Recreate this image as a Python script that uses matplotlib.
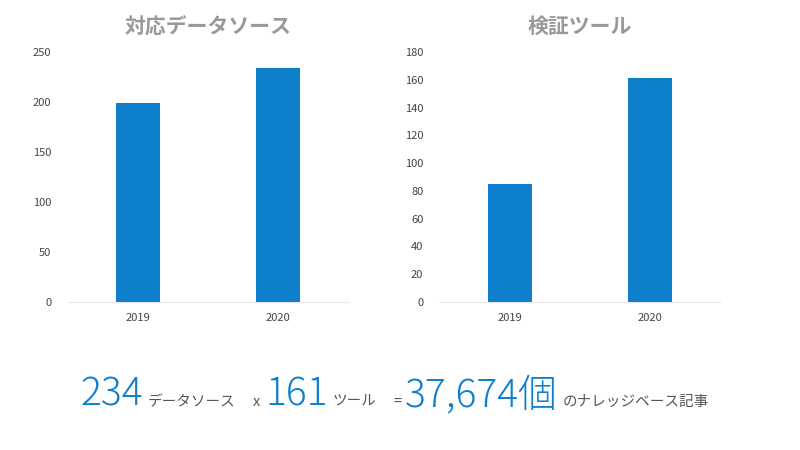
import matplotlib
matplotlib.use("Agg")
import matplotlib.pyplot as plt

plt.rcParams['font.family'] = ['Noto Sans CJK JP', 'DejaVu Sans']

years = ["2019", "2020"]
sources = [199, 234]
tools = [85, 161]
blue = "#0e7fcc"
grey = "#999999"

fig = plt.figure(figsize=(8, 4.5), dpi=100)

def panel(rect, vals, ymax, step, title):
    ax = fig.add_axes(rect)
    ax.bar(range(len(years)), vals, width=0.32, color=blue)
    ax.set_xlim(-0.5, 1.5)
    ax.set_ylim(0, ymax)
    ax.set_xticks(range(len(years)), years)
    ax.set_yticks(range(0, ymax + 1, step))
    for s in ["top", "right", "left"]:
        ax.spines[s].set_visible(False)
    ax.spines["bottom"].set_color("#e6e6e6")
    ax.tick_params(length=0, labelsize=8, colors="#444444")
    ax.tick_params(axis='y', pad=12)
    ax.tick_params(axis='x', pad=8)
    ax.set_title(title, fontsize=15, color=grey, fontweight="bold", pad=14)
    return ax

panel([68/800, 1 - 302/450, 280/800, 250/450], sources, 250, 50, "対応データソース")
panel([440/800, 1 - 302/450, 280/800, 250/450], tools, 180, 20, "検証ツール")

y = 1 - 406/450
pieces = [
    (80, "234", 28, blue),
    (148, "データソース", 10.5, "#555555"),
    (253, "x", 10.5, "#555555"),
    (265, "161", 28, blue),
    (333, "ツール", 10.5, "#555555"),
    (393, "=", 10.5, "#555555"),
    (405, "37,674個", 28, blue),
    (563, "のナレッジベース記事", 10.5, "#555555"),
]
for x, t, fs, c in pieces:
    fig.text(x / 800, y, t, fontsize=fs, color=c, ha="left", va="baseline",
             fontweight="light" if fs > 20 else "normal")

fig.savefig("out.png", dpi=100)
